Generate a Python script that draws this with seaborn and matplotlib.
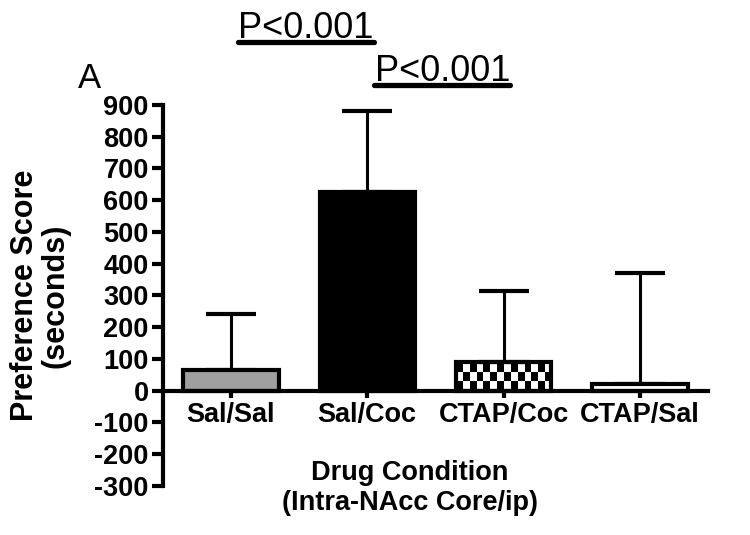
import numpy as np
import matplotlib
matplotlib.use("Agg")
import matplotlib.pyplot as plt
import seaborn as sns

# data
conditions = ["Sal/Sal", "Sal/Coc", "CTAP/Coc", "CTAP/Sal"]
means = [64, 627, 91, 22]
err_up = [178, 252, 224, 347]
yticks = [900, 800, 700, 600, 500, 400, 300, 200, 100, 0, -100, -200, -300]
comparisons = [(0, 1), (1, 2)]
p_labels = ["P<0.001", "P<0.001"]

sns.set_theme(style="white")
plt.rcParams["font.family"] = ["Liberation Sans", "DejaVu Sans"]
plt.rcParams["axes.unicode_minus"] = False
for k in ["text.color", "axes.labelcolor", "xtick.color", "ytick.color"]:
    plt.rcParams[k] = "black"

fig = plt.figure(figsize=(7.5, 5.35), dpi=100)
ax = fig.add_axes([0.217, 0.0916, 0.727, 0.7125])

fills = ["#a0a0a0", "black", "none", "white"]
sns.barplot(x=conditions, y=means, hue=conditions, palette=["#a0a0a0", "black", "white", "white"],
            legend=False, width=0.7, edgecolor="black", linewidth=3, ax=ax, zorder=2)
for p, fc in zip(ax.patches, fills):
    p.set_facecolor(fc)

# checkerboard fill for CTAP/Coc
bar = ax.patches[2]
x0, y0, w, h = bar.get_x(), bar.get_y(), bar.get_width(), bar.get_height()
ii, jj = np.indices((3, 14))
checker = (ii + jj) % 2
im = ax.imshow(checker, cmap="gray", extent=[x0, x0 + w, y0, y0 + h], aspect="auto",
               interpolation="nearest", zorder=1)
im.set_clip_path(bar)

ax.errorbar(range(len(conditions)), means, yerr=[np.zeros(len(means)), err_up], fmt="none",
            ecolor="black", elinewidth=2.2, capsize=18, capthick=3, zorder=1.5)

sns.despine(ax=ax)
ax.spines["bottom"].set_position(("data", 0))
for s in ["left", "bottom"]:
    ax.spines[s].set_linewidth(3)
    ax.spines[s].set_color("black")

ax.set_xlim(-0.5, 3.5)
ax.set_ylim(-300, 900)
ax.set_yticks(yticks)
ax.set_yticklabels([str(t) for t in yticks], fontsize=19.5, fontweight="bold")
ax.set_xticks(range(len(conditions)))
ax.set_xticklabels(conditions, fontsize=19.5, fontweight="bold")
ax.tick_params(axis="y", direction="out", length=8, width=3, pad=2, colors="black", left=True)
ax.tick_params(axis="x", direction="out", length=5, width=3, pad=3, colors="black", bottom=True)

ax.set_xlabel("Drug Condition\n(Intra-NAcc Core/ip)", fontsize=19.5, fontweight="bold",
              linespacing=1.2)
ax.xaxis.set_label_coords(0.453, 0.068)
ax.set_ylabel("Preference Score\n(seconds)", fontsize=22, fontweight="bold", linespacing=1.0)
ax.yaxis.set_label_coords(-0.17, 0.5)

ax.text(-0.134, 1.045, "A", transform=ax.transAxes, fontsize=25, ha="center", va="baseline")

# significance bars
bar_y = [1098, 963]
for (i, j), lab, yb in zip(comparisons, p_labels, bar_y):
    ax.plot([i + 0.05, j + 0.05], [yb, yb], color="black", lw=3.8, solid_capstyle="round",
            clip_on=False)
    ax.text((i + j) / 2 + 0.05, yb + 13, lab, fontsize=26, ha="center", va="baseline")

fig.savefig("out.png", dpi=100)
